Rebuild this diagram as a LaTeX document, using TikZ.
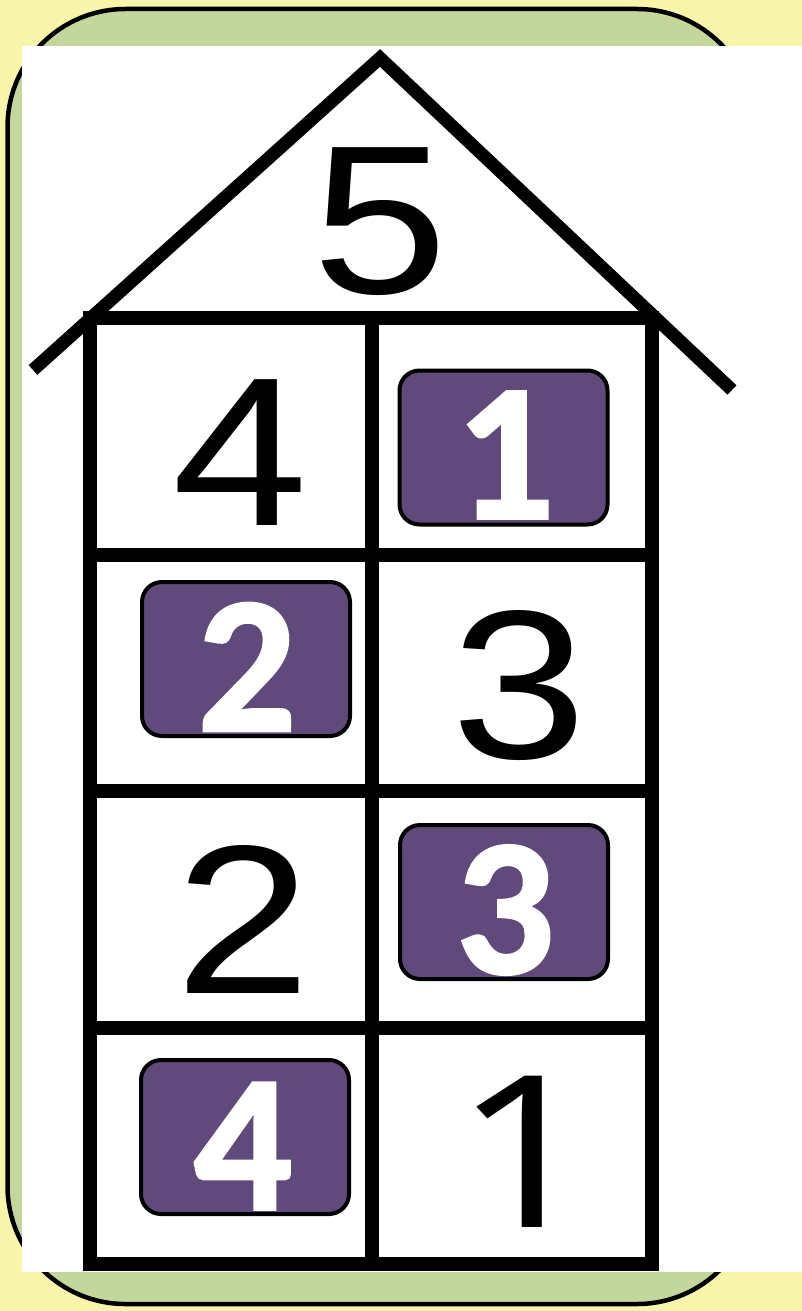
\documentclass[tikz,border=0pt]{standalone}
\usepackage{fontspec}
\setmainfont{Liberation Sans}
\newfontfamily\digitfont{Liberation Sans}[FakeStretch=1.15]
\newfontfamily\onefont{Open Sans}[FakeStretch=1.2]
\newfontfamily\tilefont{Carlito Bold}[FakeBold=1.5]
\definecolor{bgyellow}{HTML}{F8F4AA}
\definecolor{cardgreen}{HTML}{C3D69B}
\definecolor{tilepurple}{HTML}{604A7B}
\tikzset{
  cardstroke/.style={draw=black, line width=4.5pt, fill=cardgreen, rounded corners=118pt},
  wallstroke/.style={draw=black, line width=14pt, line join=miter},
  roofstroke/.style={draw=black, line width=13pt, line join=miter, line cap=butt},
  tile/.style={draw=black, line width=4pt, fill=tilepurple, rounded corners=20pt,
    minimum width=208pt, minimum height=154pt, inner sep=0pt},
  blackdigit/.style={inner sep=0pt, text=black, font=\digitfont\fontsize{212}{212}\selectfont},
  blackone/.style={inner sep=0pt, text=black, font=\onefont\fontsize{212}{212}\selectfont},
  whitedigit/.style={inner sep=0pt, text=white, font=\tilefont\fontsize{195}{195}\selectfont},
}
\begin{document}
\begin{tikzpicture}[x=1pt,y=-1pt]
\useasboundingbox (0,0) rectangle (802,1311);
\fill[bgyellow] (0,0) rectangle (802,1311);
\path[cardstroke] (7.5,9) rectangle (755,1304);
\fill[white] (22,46) rectangle (802,1272);
% house frame
\coordinate (tl) at (90,318);
\coordinate (tr) at (652,318);
\coordinate (bl) at (90,1264);
\coordinate (br) at (652,1264);
\coordinate (midtop) at (372,318);
\coordinate (midbot) at (372,1264);
\coordinate (apex) at (380,58);
\coordinate (eaveL) at (33,370);
\coordinate (eaveR) at (732,390);
\path[wallstroke] (tl) rectangle (br);
\path[wallstroke] (midtop) -- (midbot);
\foreach \yy/\nm in {554.5/r1, 791/r2, 1027.5/r3} {
  \coordinate (\nm L) at (90,\yy);
  \coordinate (\nm R) at (652,\yy);
  \path[wallstroke] (\nm L) -- (\nm R);
}
\path[roofstroke] (eaveL) -- (apex) -- (eaveR);
% numbers
\node[blackdigit] (n5) at (380,222) {5};
\node[blackdigit] (n4) at (240,453) {4};
\node[blackdigit] (n3) at (519,686) {3};
\node[blackdigit] (n2) at (243,919) {2};
\node[blackone] (n1) at (526,1152) {1};
% tiles
\node[tile] (t1) at (503.5,447.5) {};
\node[whitedigit] (w1) at (505,455) {1};
\node[tile] (t2) at (246,659) {};
\node[whitedigit] (w2) at (247,667) {2};
\node[tile] (t3) at (504,902) {};
\node[whitedigit] (w3) at (505,910) {3};
\node[tile] (t4) at (245,1137) {};
\node[whitedigit] (w4) at (243,1146) {4};
\end{tikzpicture}
\end{document}
